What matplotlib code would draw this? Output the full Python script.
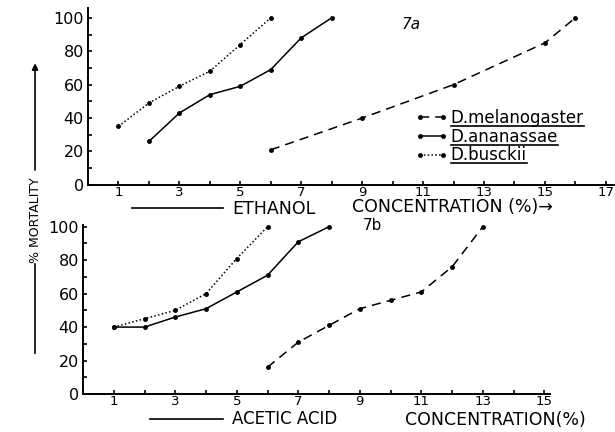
import matplotlib

matplotlib.use("Agg")
import matplotlib.pyplot as plt
from matplotlib.lines import Line2D
from matplotlib.patches import FancyArrowPatch
from matplotlib.transforms import IdentityTransform

# 7a: ethanol
eth_mel_x = [6, 9, 12, 15, 16]
eth_mel_y = [21, 40, 60, 85, 100]
eth_ana_x = [2, 3, 4, 5, 6, 7, 8]
eth_ana_y = [26, 43, 54, 59, 69, 88, 100]
eth_bus_x = [1, 2, 3, 4, 5, 6]
eth_bus_y = [35, 49, 59, 68, 84, 100]

# 7b: acetic acid
ace_mel_x = [6, 7, 8, 9, 10, 11, 12, 13]
ace_mel_y = [16, 31, 41, 51, 56, 61, 76, 100]
ace_ana_x = [1, 2, 3, 4, 5, 6, 7, 8]
ace_ana_y = [40, 40, 46, 51, 61, 71, 91, 100]
ace_bus_x = [1, 2, 3, 4, 5, 6]
ace_bus_y = [40, 45, 50, 60, 81, 100]

species = ["D.melanogaster", "D.ananassae", "D.busckii"]
y_ticks = [0, 20, 40, 60, 80, 100]

styles = [
    dict(ls=(0, (6, 4)), lw=1.1),
    dict(ls="-", lw=1.1),
    dict(ls=(0, (1, 1.5)), lw=1.1),
]

fig = plt.figure(figsize=(6.15, 4.32), dpi=100)
ax1 = fig.add_axes([0.143, 0.572, 0.857, 0.410])
ax2 = fig.add_axes([0.135, 0.088, 0.760, 0.391])


def style_axes(ax, xmax, xlabels, ymax):
    ax.set_xlim(0, xmax)
    ax.set_ylim(0, ymax)
    for s in ("top", "right"):
        ax.spines[s].set_visible(False)
    ax.spines["left"].set_linewidth(1.4)
    ax.spines["bottom"].set_linewidth(1.4)
    ax.set_xticks(xlabels)
    ax.set_xticklabels([str(v) for v in xlabels], fontsize=9.5)
    ax.set_xticks(range(1, int(xmax) + 1), minor=True)
    ax.set_yticks(y_ticks)
    ax.set_yticklabels([str(v) for v in y_ticks], fontsize=11.5)
    ax.set_yticks(range(10, 101, 20), minor=True)
    ax.tick_params(which="both", direction="in", length=3, width=1.2)
    ax.tick_params(axis="x", pad=0.5)
    ax.tick_params(axis="y", pad=3)
    ax.patch.set_alpha(0)


for ax, data in (
    (ax1, [(eth_mel_x, eth_mel_y), (eth_ana_x, eth_ana_y), (eth_bus_x, eth_bus_y)]),
    (ax2, [(ace_mel_x, ace_mel_y), (ace_ana_x, ace_ana_y), (ace_bus_x, ace_bus_y)]),
):
    for (x, y), st, name in zip(data, styles, species):
        ax.plot(x, y, color="black", marker="o", ms=2.5, label=name, **st)

style_axes(ax1, 17.3, [1, 3, 5, 7, 9, 11, 13, 15, 17], 106)
style_axes(ax2, 15.2, [1, 3, 5, 7, 9, 11, 13, 15], 101)

leg = ax1.legend(
    loc="upper left",
    bbox_to_anchor=(0.62, 0.43),
    frameon=False,
    numpoints=2,
    handlelength=2.0,
    handletextpad=0.15,
    labelspacing=0.05,
    borderpad=0,
    borderaxespad=0,
    prop=dict(size=12),
)

ax1.text(10.3, 96, "7a", fontsize=11, style="italic", va="center")
ax2.text(9.1, 101, "7b", fontsize=11, va="center")

# x-axis captions
fig.text(0.377, 0.517, "ETHANOL", fontsize=12.5, va="center")
fig.text(0.572, 0.521, "CONCENTRATION (%)\u2192", fontsize=12.5, va="center")
fig.add_artist(Line2D([0.215, 0.362], [0.518, 0.518], color="black", lw=1.2))
fig.text(0.377, 0.030, "ACETIC ACID", fontsize=12, va="center")
fig.text(0.658, 0.028, "CONCENTRATION(%)", fontsize=12.5, va="center")
fig.add_artist(Line2D([0.244, 0.362], [0.030, 0.030], color="black", lw=1.2))

# y-axis caption with arrow
fig.text(0.057, 0.49, "% MORTALITY", rotation=90, fontsize=9, ha="center", va="center")
fig.add_artist(Line2D([0.057, 0.057], [0.183, 0.39], color="black", lw=1.2))
fig.add_artist(
    FancyArrowPatch(
        (0.057, 0.60), (0.057, 0.86), transform=fig.transFigure,
        arrowstyle="-|>", mutation_scale=9, color="black", lw=1.2,
    )
)

# underline legend labels
fig.canvas.draw()
for t in leg.get_texts():
    bb = t.get_window_extent()
    fig.add_artist(
        Line2D([bb.x0, bb.x1], [bb.y0 + 1, bb.y0 + 1], transform=IdentityTransform(),
               color="black", lw=1.2)
    )

fig.savefig("out.png", dpi=100)
